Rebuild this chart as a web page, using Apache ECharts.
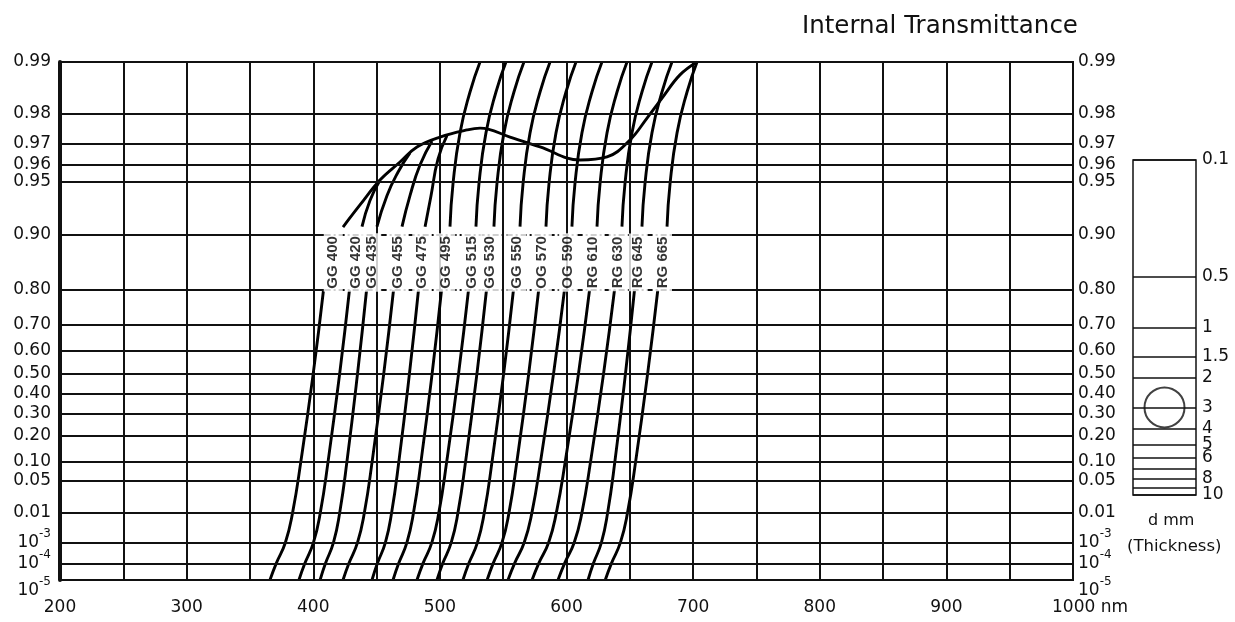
<!DOCTYPE html>
<html><head><meta charset="utf-8">
<script src="https://cdn.jsdelivr.net/npm/echarts@6/dist/echarts.min.js"></script>
<style>html,body{margin:0;padding:0;background:#fff}#c{width:1235px;height:622px}</style>
</head><body><div id="c"></div>
<script>
// ---------- data ----------
const filterNames = ['GG 400','GG 420','GG 435','GG 455','GG 475','GG 495','GG 515','GG 530','GG 550','OG 570','OG 590','RG 610','RG 630','RG 645','RG 665'];
// transmittance levels at which the lower branch of each curve is read
const lowerLevels = [1e-5, 1e-4, 1e-3, 0.01, 0.1, 0.5, 0.8];
// wavelength (nm) of each filter at those levels
const lowerLambda = [
  [365.8, 370.7, 378.0, 383.7, 390.2, 400.0, 408.1],
  [388.7, 393.3, 400.2, 405.6, 411.7, 420.9, 428.6],
  [405.4, 409.6, 416.0, 420.9, 426.6, 435.0, 442.1],
  [423.5, 428.1, 435.0, 440.4, 446.5, 455.7, 463.4],
  [446.4, 450.6, 457.0, 461.9, 467.6, 476.0, 483.1],
  [463.0, 467.4, 474.0, 479.2, 485.1, 493.9, 501.3],
  [481.9, 486.6, 493.7, 499.2, 505.4, 514.8, 522.6],
  [497.7, 502.2, 509.0, 514.3, 520.3, 529.3, 536.8],
  [518.2, 522.8, 529.7, 535.1, 541.2, 550.4, 558.1],
  [537.3, 542.0, 549.1, 554.6, 560.8, 570.2, 578.0],
  [553.8, 558.9, 566.6, 572.7, 579.5, 589.8, 598.4],
  [572.8, 578.0, 585.9, 592.0, 599.0, 609.5, 618.2],
  [593.3, 598.4, 606.1, 612.2, 619.0, 629.3, 637.9],
  [617.0, 621.2, 627.6, 632.5, 638.2, 646.6, 653.7],
  [630.6, 635.4, 642.6, 648.2, 654.6, 664.1, 672.1]
];
// upper branch of each curve: [nm, T]
const upperCurves = [
  [],
  [[438.5, 0.91], [444.8, 0.936], [452.7, 0.951]],
  [[450.3, 0.91], [458.2, 0.94], [466.9, 0.956], [476.4, 0.966]],
  [[470.1, 0.91], [476.4, 0.94], [484.3, 0.96], [493.8, 0.971]],
  [[488.3, 0.91], [493.0, 0.94], [498.5, 0.963], [505.6, 0.973]],
  [[508.0, 0.91], [510.4, 0.949], [515.9, 0.974], [523.8, 0.985], [531.7, 0.99]],
  [[528.5, 0.91], [530.9, 0.949], [536.4, 0.974], [544.3, 0.985], [552.2, 0.99]],
  [[542.7, 0.91], [545.1, 0.949], [550.6, 0.974], [558.5, 0.985], [566.4, 0.99]],
  [[563.3, 0.91], [565.7, 0.949], [571.2, 0.974], [579.1, 0.985], [587.0, 0.99]],
  [[583.8, 0.91], [586.2, 0.949], [591.7, 0.974], [599.6, 0.985], [607.5, 0.99]],
  [[604.3, 0.91], [606.7, 0.949], [612.2, 0.974], [620.1, 0.985], [628.0, 0.99]],
  [[624.1, 0.91], [626.5, 0.949], [632.0, 0.974], [639.9, 0.985], [647.8, 0.99]],
  [[643.8, 0.91], [646.2, 0.949], [651.7, 0.974], [659.6, 0.985], [667.5, 0.99]],
  [[659.6, 0.91], [662.0, 0.949], [667.5, 0.974], [675.4, 0.985], [683.3, 0.99]],
  [[679.4, 0.91], [681.8, 0.949], [687.3, 0.974], [695.2, 0.985], [703.1, 0.99]]
];
// common plateau (upper branch of GG 400)
const envelope = [[423.5, 0.9096], [436.9, 0.9322], [452.7, 0.9512], [468.5, 0.9616], [481.9, 0.9686], [500.1, 0.9725], [521.4, 0.975], [531.7, 0.9756], [555.4, 0.9725], [579.1, 0.9686], [610.7, 0.9626], [632.0, 0.9641], [650.1, 0.9714], [663.6, 0.9787], [676.2, 0.984], [689.6, 0.9881], [703.0, 0.99]];

const yTickValues = [0.99, 0.98, 0.97, 0.96, 0.95, 0.90, 0.80, 0.70, 0.60, 0.50, 0.40, 0.30, 0.20, 0.10, 0.05, 0.01, 1e-3, 1e-4, 1e-5];
const yTickLabels = ['0.99','0.98','0.97','0.96','0.95','0.90','0.80','0.70','0.60','0.50','0.40','0.30','0.20','0.10','0.05','0.01','10^-3','10^-4','10^-5'];
const xMin = 200, xMax = 1000, xGridStep = 50, xLabelStep = 100;
const thicknessLines = [0.1, 0.5, 1, 1.5, 2, 3, 4, 5, 6, 7, 8, 9, 10];
const thicknessLabels = ['0.1', '0.5', '1', '1.5', '2', '3', '4', '5', '6', '8', '10'];
const markedThickness = 3;

// ---------- drawing ----------
const tf = T => -Math.log10(-Math.log(T));   // internal-transmittance scale
const yMin = tf(1e-5), yMax = tf(0.99);
const FONT = 'DejaVu Sans';
const BLACK = '#111';

function richLabel(s) {
  const m = s.match(/^10\^(-?\d+)$/);
  return m ? '{m|10}{e|' + m[1] + '}' : '{m|' + s + '}';
}
const yRich = {
  m: { fontSize: 17, lineHeight: 30, fontFamily: FONT, color: BLACK },
  e: { fontSize: 12, lineHeight: 10, verticalAlign: 'top', fontFamily: FONT, color: BLACK }
};

const series = [];
const curveStyle = { color: '#000', width: 2.9 };
filterNames.forEach((name, i) => {
  series.push({
    type: 'line', name: name + ' lower', symbol: 'none', smooth: 0.5, z: 4,
    lineStyle: curveStyle, silent: true,
    data: lowerLambda[i].map((l, k) => [l, tf(lowerLevels[k])])
  });
  if (upperCurves[i].length) {
    series.push({
      type: 'line', name: name + ' upper', symbol: 'none', smooth: 0.5, z: 4,
      lineStyle: curveStyle, silent: true,
      data: upperCurves[i].map(p => [p[0], tf(p[1])])
    });
  }
});
series.push({
  type: 'line', name: 'envelope', symbol: 'none', smooth: 0.4, z: 4,
  lineStyle: curveStyle, silent: true,
  data: envelope.map(p => [p[0], tf(p[1])])
});

// label band between 0.80 and 0.90
const bandMid = (tf(0.9) + tf(0.8)) / 2;
const labelData = filterNames.map((name, i) => {
  const lo = lowerLambda[i][lowerLambda[i].length - 1];
  const up = upperCurves[i].length ? upperCurves[i][0][0] : envelope[0][0];
  return { name: name, value: [(lo + up) / 2, bandMid] };
});
series.push({
  type: 'scatter', name: 'labels', symbolSize: 0, z: 6, silent: true,
  data: labelData,
  label: {
    show: true, position: 'inside', rotate: 90, formatter: '{b}',
    fontFamily: 'Liberation Sans', fontWeight: 'bold', fontSize: 15, color: '#000',
    backgroundColor: '#fff', padding: [2, 3, 2, 3]
  }
});

// horizontal grid lines (0.80 and 0.90 dashed across the label band); tick labels on both sides
const bandL = 409, bandR = 683;
const hLines = [], rightLabels = [];
yTickValues.forEach((t, i) => {
  const y = tf(t);
  const lab = { show: true, formatter: richLabel(yTickLabels[i]) };
  if (i === yTickValues.length - 1) lab.offset = [0, 11];   // lowest label sits below the axis corner
  if (t === 0.9 || t === 0.8) {
    hLines.push([{ coord: [xMin, y], label: lab }, { coord: [bandL, y] }]);
    hLines.push([{ coord: [bandL, y], lineStyle: { type: [6, 3, 2, 3] } }, { coord: [bandR, y] }]);
    hLines.push([{ coord: [bandR, y] }, { coord: [xMax, y] }]);
  } else {
    hLines.push([{ coord: [xMin, y], label: lab }, { coord: [xMax, y] }]);
  }
  rightLabels.push([{ coord: [xMin, y], label: lab }, { coord: [xMax, y] }]);
});
series.push({
  type: 'scatter', name: 'grid', data: [], symbolSize: 0, z: 2, silent: true,
  markLine: {
    silent: true, symbol: ['none', 'none'], animation: false,
    label: { show: false, position: 'start', distance: 9, color: BLACK, rich: yRich },
    lineStyle: { color: BLACK, width: 2, type: 'solid' },
    data: hLines
  }
});
series.push({
  type: 'scatter', name: 'right labels', data: [], symbolSize: 0, z: 2, silent: true,
  markLine: {
    silent: true, symbol: ['none', 'none'], animation: false,
    label: { show: true, position: 'end', distance: 5, color: BLACK, rich: yRich },
    lineStyle: { color: 'rgba(0,0,0,0)', width: 0 },
    data: rightLabels
  }
});

// thickness scale
const thickLineData = thicknessLines.map(d => {
  const lab = thicknessLabels.indexOf(String(d));
  return [
    { coord: [0, d], label: { show: lab >= 0, formatter: thicknessLabels[lab] || '' } },
    { coord: [1, d] }
  ];
});
series.push({
  type: 'scatter', name: 'thickness', xAxisIndex: 1, yAxisIndex: 2,
  data: [[0.5, markedThickness]], symbol: 'circle', symbolSize: 40, silent: true,
  itemStyle: { color: 'rgba(0,0,0,0)', borderColor: BLACK, borderWidth: 2 },
  markLine: {
    silent: true, symbol: ['none', 'none'], animation: false,
    lineStyle: { color: BLACK, width: 1.5, type: 'solid' },
    label: { position: 'end', distance: 6, fontFamily: FONT, fontSize: 17, color: BLACK },
    data: thickLineData
  }
});

const option = {
  animation: false,
  backgroundColor: '#fff',
  textStyle: { fontFamily: FONT },
  title: {
    text: 'Internal Transmittance', left: 797, top: 9,
    textStyle: { fontFamily: FONT, fontSize: 24.5, fontWeight: 'normal', color: BLACK }
  },
  grid: [
    { left: 60, top: 62, width: 1013, height: 518, show: true, borderColor: BLACK, borderWidth: 2, backgroundColor: 'transparent' },
    { left: 1133, top: 160, width: 63, height: 335, show: true, borderColor: BLACK, borderWidth: 1.5, backgroundColor: 'transparent' }
  ],
  xAxis: [
    {
      type: 'value', gridIndex: 0, min: xMin, max: xMax, interval: xGridStep,
      axisLine: { show: true, onZero: false, lineStyle: { color: BLACK, width: 2 } },
      axisTick: { show: false },
      splitLine: { show: true, lineStyle: { color: BLACK, width: 2 } },
      axisLabel: {
        margin: 19, fontSize: 17, color: BLACK, fontFamily: FONT,
        formatter: v => (v % xLabelStep !== 0 ? '' : (v === xMax ? '{p|}' + v + ' nm' : String(v))),
        rich: { p: { width: 34 } }
      }
    },
    { type: 'value', gridIndex: 1, min: 0, max: 1, show: false }
  ],
  yAxis: [
    {
      type: 'value', gridIndex: 0, min: yMin, max: yMax, position: 'left',
      axisLine: { show: true, onZero: false, lineStyle: { color: BLACK, width: 4 } },
      axisTick: { show: false }, splitLine: { show: false }, axisLabel: { show: false }
    },
    {
      type: 'value', gridIndex: 0, min: yMin, max: yMax, position: 'right',
      axisLine: { show: true, onZero: false, lineStyle: { color: BLACK, width: 2 } },
      axisTick: { show: false }, splitLine: { show: false }, axisLabel: { show: false }
    },
    { type: 'log', gridIndex: 1, min: 0.1, max: 10, inverse: true, show: false }
  ],
  graphic: [
    { type: 'text', left: 1148, top: 513, style: { text: 'd mm', fontFamily: FONT, fontSize: 16, fill: BLACK } },
    { type: 'text', left: 1127, top: 538, style: { text: '(Thickness)', fontFamily: FONT, fontSize: 16.5, fill: BLACK } }
  ],
  series: series
};
const chart = echarts.init(document.getElementById('c'));
chart.setOption(option);
</script>
</body></html>
